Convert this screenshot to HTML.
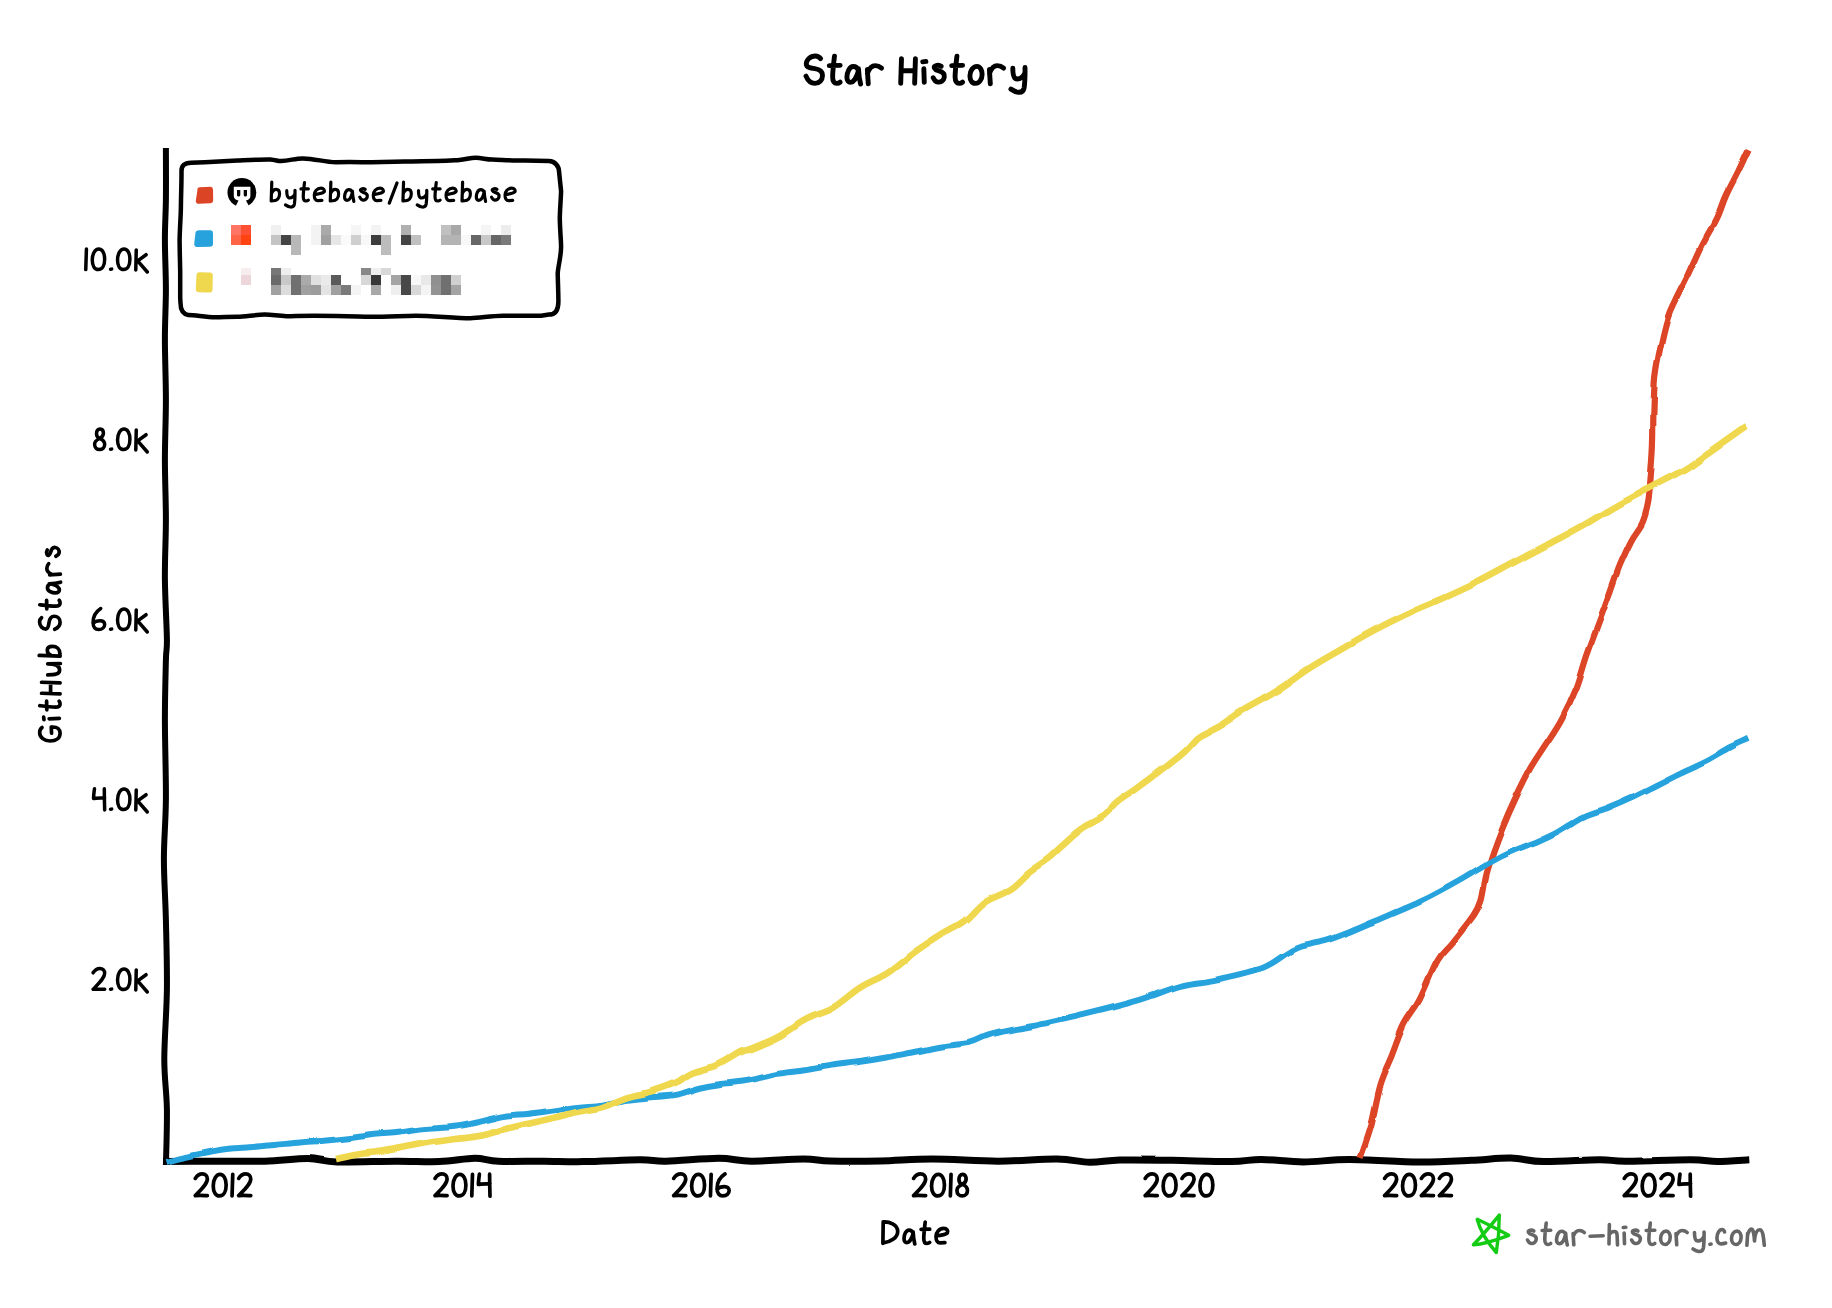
<!DOCTYPE html>
<html><head><meta charset="utf-8"><style>
html,body{margin:0;padding:0;background:#fff;width:1832px;height:1308px;overflow:hidden}
svg{display:block}
</style></head><body>
<svg width="1832" height="1308" viewBox="0 0 1832 1308">
<defs><filter id="xk" filterUnits="userSpaceOnUse" x="0" y="0" width="1832" height="1308"><feTurbulence type="fractalNoise" baseFrequency="0.025" result="noise"/><feDisplacementMap scale="6" xChannelSelector="R" yChannelSelector="G" in="SourceGraphic" in2="noise"/></filter><filter id="xk2" filterUnits="userSpaceOnUse" x="0" y="0" width="1832" height="1308"><feTurbulence type="fractalNoise" baseFrequency="0.03" seed="7" result="noise"/><feDisplacementMap scale="2" xChannelSelector="R" yChannelSelector="G" in="SourceGraphic" in2="noise"/></filter></defs>
<rect width="1832" height="1308" fill="#fff"/>
<g transform="translate(806.00,83.40) translate(0.00,0) scale(1.2700,1.2700)" fill="none" stroke="#000" stroke-width="4.9" stroke-linecap="round" stroke-linejoin="round"><path vector-effect="non-scaling-stroke" transform="translate(0.00,0) scale(1.0833,1) translate(0.00,0)" d="M10.6,-19.5 C9.5,-21 8.2,-21.6 6.9,-21.6 C3,-21.6 0.2,-18.5 0.2,-15.2 C0.2,-12.5 3.5,-12 6.4,-11.6 C9.8,-11 12,-9.5 12,-6.3 C12,-2.5 9.5,0 6.5,0 C3.5,0 1.2,-2.5 0,-5.7"/><path vector-effect="non-scaling-stroke" transform="translate(18.30,0) scale(0.8958,1) translate(0.00,0)" d="M4.6,-21.4 C4,-17 3,-10 3,-5 C3,-1.5 4.5,0 6.5,0 C8,0 9,-0.5 9.6,-1 M0,-14 L9.6,-14.2"/><path vector-effect="non-scaling-stroke" transform="translate(32.20,0) scale(0.9818,1) translate(0.00,0)" d="M9.3,-10 C8.5,-12.5 7,-13.3 5.1,-13.3 C2,-13.3 0,-8.5 0,-4.8 C0,-2.3 1.2,-0.8 3,-0.8 C5.5,-0.8 8,-5 9.3,-10 M9.3,-11.5 C9.5,-7 10,-3 11,0.5"/><path vector-effect="non-scaling-stroke" transform="translate(48.30,0) scale(1.0370,1) translate(0.00,0)" d="M0,-11 C0.2,-7 0.5,-3 0.7,0.3 M0.1,-8 C1.5,-12 3.5,-14 6,-14 C8,-14 9.5,-13.2 10.8,-12"/></g>
<g transform="translate(900.70,83.40) translate(0.00,0) scale(1.2700,1.2700)" fill="none" stroke="#000" stroke-width="4.9" stroke-linecap="round" stroke-linejoin="round"><path vector-effect="non-scaling-stroke" transform="translate(0.00,0) scale(1.0357,1) translate(0.00,0)" d="M0.6,-19.5 L0,0 M11.2,-19.5 L10.6,0 M0.4,-10 L10.9,-10"/><path vector-effect="non-scaling-stroke" transform="translate(17.35,0) scale(0.7143,1) translate(0.00,0)" d="M0,-17 L3.5,-17.3 M1.2,-11.5 L1.7,-0.8"/><path vector-effect="non-scaling-stroke" transform="translate(25.60,0) scale(1.1483,1) translate(0.00,0)" d="M5.5,-13.5 C4.5,-14.3 2.8,-14.5 1.5,-13.8 C0.2,-13 0.5,-11 3.5,-10 C6.5,-9 8,-7.5 7.6,-5 C7.2,-2 5,-0.8 3.2,-1 C1.8,-1.2 0.8,-2.5 0,-4.5"/><path vector-effect="non-scaling-stroke" transform="translate(40.15,0) scale(0.8958,1) translate(0.00,0)" d="M4.6,-21.4 C4,-17 3,-10 3,-5 C3,-1.5 4.5,0 6.5,0 C8,0 9,-0.5 9.6,-1 M0,-14 L9.6,-14.2"/><path vector-effect="non-scaling-stroke" transform="translate(54.50,0) scale(1.1034,1) translate(0.00,0)" d="M5,-13.4 C7.5,-13.4 8.7,-10 8.7,-7 C8.7,-3 6.5,0 4,0 C1.5,0 0,-2.5 0,-6 C0,-10 2.2,-13.4 5,-13.4 Z"/><path vector-effect="non-scaling-stroke" transform="translate(69.85,0) scale(1.0370,1) translate(0.00,0)" d="M0,-11 C0.2,-7 0.5,-3 0.7,0.3 M0.1,-8 C1.5,-12 3.5,-14 6,-14 C8,-14 9.5,-13.2 10.8,-12"/><path vector-effect="non-scaling-stroke" transform="translate(86.80,0) scale(0.9894,1) translate(1.50,0)" d="M0,-12 C0,-7 0.8,-3.5 3.5,-3.5 C6,-3.5 8.5,-5.5 9.7,-8.5 M9.7,-12.5 C9.8,-6 9.5,0 9,3.5 C8.5,6.5 6.5,7.2 4.3,7 C2,6.8 0,5.5 -1.5,4.5"/></g>
<g filter="url(#xk2)">
<path d="M165.9,148.0 C165.9,156.6 166.1,184.4 165.9,199.7 C165.7,214.9 164.9,224.6 164.9,239.5 C164.9,254.4 165.9,272.7 165.9,289.3 C165.9,305.9 164.9,320.6 164.9,339.0 C164.9,357.4 165.9,379.9 165.9,400.0 C165.9,420.1 164.9,439.8 164.9,459.7 C164.9,479.6 165.9,499.5 165.9,519.4 C165.9,539.3 164.7,559.2 164.9,579.1 C165.1,599.0 166.7,625.3 166.9,638.8 C167.1,652.3 166.2,646.5 165.9,660.0 C165.6,673.5 164.9,696.5 164.9,719.7 C164.9,742.9 166.1,776.1 165.9,799.3 C165.7,822.5 163.9,838.9 163.9,859.0 C163.9,879.1 165.4,898.2 165.9,920.0 C166.4,941.8 167.2,966.4 166.9,989.6 C166.6,1012.8 164.3,1039.4 164.3,1059.3 C164.3,1079.2 166.6,1091.4 166.9,1109.0 C167.2,1126.6 166.1,1155.7 165.9,1165.0" stroke="#000" stroke-width="6" fill="none" stroke-linecap="butt"/>
<path d="M163.0,1161.5 C171.2,1161.5 195.4,1161.2 212.4,1161.2 C229.4,1161.2 248.9,1161.6 264.8,1161.2 C280.7,1160.8 296.0,1158.5 308.0,1158.6 C320.0,1158.7 322.3,1161.6 336.9,1162.0 C351.5,1162.4 378.7,1161.3 395.8,1161.2 C412.9,1161.1 426.2,1162.1 439.3,1161.6 C452.4,1161.1 464.9,1158.4 474.7,1158.3 C484.5,1158.2 486.7,1160.7 498.3,1161.2 C509.9,1161.7 529.9,1161.1 544.1,1161.2 C558.3,1161.3 567.4,1161.8 583.4,1161.6 C599.4,1161.4 626.2,1159.9 640.0,1159.8 C653.8,1159.7 653.1,1161.5 666.2,1161.2 C679.3,1161.0 704.4,1158.3 718.6,1158.3 C732.8,1158.3 737.2,1161.1 751.4,1161.2 C765.6,1161.3 790.7,1159.0 803.8,1159.0 C816.9,1159.0 817.3,1160.7 830.0,1161.0 C842.7,1161.3 862.9,1161.3 880.0,1161.0 C897.1,1160.7 912.8,1159.0 932.4,1159.0 C952.0,1159.0 977.1,1161.2 997.9,1161.2 C1018.6,1161.2 1041.6,1158.8 1056.9,1159.0 C1072.2,1159.2 1079.1,1162.1 1089.6,1162.3 C1100.1,1162.5 1106.2,1160.3 1120.0,1160.0 C1133.8,1159.7 1153.8,1160.0 1172.4,1160.3 C1191.0,1160.6 1216.6,1161.8 1231.4,1161.6 C1246.2,1161.4 1249.5,1159.3 1261.5,1159.4 C1273.5,1159.5 1288.8,1162.0 1303.4,1162.0 C1318.0,1162.0 1330.0,1159.5 1349.3,1159.5 C1368.6,1159.5 1398.7,1161.9 1419.0,1162.0 C1439.3,1162.1 1456.1,1161.0 1471.4,1160.3 C1486.7,1159.6 1498.7,1157.9 1510.7,1158.1 C1522.7,1158.3 1528.6,1161.3 1543.4,1161.6 C1558.2,1161.9 1585.6,1159.8 1599.3,1159.7 C1613.0,1159.6 1610.2,1161.2 1625.5,1161.2 C1640.8,1161.2 1675.7,1159.6 1691.0,1159.7 C1706.3,1159.8 1707.5,1161.6 1717.2,1161.6 C1726.9,1161.6 1744.0,1160.0 1749.3,1159.7" stroke="#000" stroke-width="7" fill="none" stroke-linecap="butt"/>
</g>
<g transform="translate(147.30,269.60) translate(-61.54,0) scale(0.9600,0.9600)" fill="none" stroke="#000" stroke-width="3.5" stroke-linecap="round" stroke-linejoin="round"><path vector-effect="non-scaling-stroke" transform="translate(0.00,0) scale(1.0000,1) translate(-0.30,0)" d="M1,-21.5 L0.3,0"/><path vector-effect="non-scaling-stroke" transform="translate(6.80,0) scale(0.9923,1) translate(0.00,0)" d="M6.8,-21.5 C10.5,-21.5 13,-17 13,-11 C13,-4.5 10.5,0 6.3,0 C2.5,0 0,-4 0,-10 C0,-16.5 3,-21.5 6.8,-21.5 Z"/><path vector-effect="non-scaling-stroke" transform="translate(25.80,0) scale(1.5000,1) translate(0.00,0)" d="M0,-0.3 L0.8,-0.5"/><path vector-effect="non-scaling-stroke" transform="translate(33.10,0) scale(0.9923,1) translate(0.00,0)" d="M6.8,-21.5 C10.5,-21.5 13,-17 13,-11 C13,-4.5 10.5,0 6.3,0 C2.5,0 0,-4 0,-10 C0,-16.5 3,-21.5 6.8,-21.5 Z"/><path vector-effect="non-scaling-stroke" transform="translate(52.10,0) scale(0.9756,1) translate(0.00,0)" d="M0.5,-20.5 L0,0.5 M11,-15.5 L2,-9 L12.3,2.5"/></g>
<g transform="translate(147.30,449.60) translate(-52.70,0) scale(0.9600,0.9600)" fill="none" stroke="#000" stroke-width="3.5" stroke-linecap="round" stroke-linejoin="round"><path vector-effect="non-scaling-stroke" transform="translate(0.00,0) scale(1.0000,1) translate(0.00,0)" d="M5.5,-11.5 C2.5,-12.5 2,-14.5 2,-16.5 C2,-19.5 3.5,-21.5 5.8,-21.5 C8,-21.5 9.2,-19.5 9.2,-17 C9.2,-14 7.5,-12.5 5,-11.3 C2,-10 0,-8 0,-5.5 C0,-2 2.3,0 5.2,0 C8.2,0 10.5,-2 10.5,-5.5 C10.5,-9 8,-10.5 5.5,-11.5 Z"/><path vector-effect="non-scaling-stroke" transform="translate(16.60,0) scale(1.5000,1) translate(0.00,0)" d="M0,-0.3 L0.8,-0.5"/><path vector-effect="non-scaling-stroke" transform="translate(23.90,0) scale(0.9923,1) translate(0.00,0)" d="M6.8,-21.5 C10.5,-21.5 13,-17 13,-11 C13,-4.5 10.5,0 6.3,0 C2.5,0 0,-4 0,-10 C0,-16.5 3,-21.5 6.8,-21.5 Z"/><path vector-effect="non-scaling-stroke" transform="translate(42.90,0) scale(0.9756,1) translate(0.00,0)" d="M0.5,-20.5 L0,0.5 M11,-15.5 L2,-9 L12.3,2.5"/></g>
<g transform="translate(147.30,629.60) translate(-54.24,0) scale(0.9600,0.9600)" fill="none" stroke="#000" stroke-width="3.5" stroke-linecap="round" stroke-linejoin="round"><path vector-effect="non-scaling-stroke" transform="translate(0.00,0) scale(1.0522,1) translate(-0.30,0)" d="M7.9,-22 C3.5,-19 0.3,-14 0.3,-7.5 C0.3,-2.5 2.5,0 5.8,0 C9.5,0 11.8,-2.5 11.8,-5.3 C11.8,-7.8 10,-9.3 7.5,-9.3 C4.5,-9.3 1.5,-8 0.3,-6.5"/><path vector-effect="non-scaling-stroke" transform="translate(18.20,0) scale(1.5000,1) translate(0.00,0)" d="M0,-0.3 L0.8,-0.5"/><path vector-effect="non-scaling-stroke" transform="translate(25.50,0) scale(0.9923,1) translate(0.00,0)" d="M6.8,-21.5 C10.5,-21.5 13,-17 13,-11 C13,-4.5 10.5,0 6.3,0 C2.5,0 0,-4 0,-10 C0,-16.5 3,-21.5 6.8,-21.5 Z"/><path vector-effect="non-scaling-stroke" transform="translate(44.50,0) scale(0.9756,1) translate(0.00,0)" d="M0.5,-20.5 L0,0.5 M11,-15.5 L2,-9 L12.3,2.5"/></g>
<g transform="translate(147.30,809.60) translate(-53.76,0) scale(0.9600,0.9600)" fill="none" stroke="#000" stroke-width="3.5" stroke-linecap="round" stroke-linejoin="round"><path vector-effect="non-scaling-stroke" transform="translate(0.00,0) scale(0.9915,1) translate(0.00,0)" d="M1,-21.7 C0.5,-18 0,-14 0,-11.5 C3.5,-11.8 7.5,-12.3 11.7,-12.3 M11.3,-21.7 C11.3,-14 11.5,-6 11.7,0.3"/><path vector-effect="non-scaling-stroke" transform="translate(17.70,0) scale(1.5000,1) translate(0.00,0)" d="M0,-0.3 L0.8,-0.5"/><path vector-effect="non-scaling-stroke" transform="translate(25.00,0) scale(0.9923,1) translate(0.00,0)" d="M6.8,-21.5 C10.5,-21.5 13,-17 13,-11 C13,-4.5 10.5,0 6.3,0 C2.5,0 0,-4 0,-10 C0,-16.5 3,-21.5 6.8,-21.5 Z"/><path vector-effect="non-scaling-stroke" transform="translate(44.00,0) scale(0.9756,1) translate(0.00,0)" d="M0.5,-20.5 L0,0.5 M11,-15.5 L2,-9 L12.3,2.5"/></g>
<g transform="translate(147.30,989.60) translate(-54.24,0) scale(0.9600,0.9600)" fill="none" stroke="#000" stroke-width="3.5" stroke-linecap="round" stroke-linejoin="round"><path vector-effect="non-scaling-stroke" transform="translate(0.00,0) scale(1.0083,1) translate(0.00,0)" d="M0,-17.5 C1.8,-20.3 4.5,-22 7,-22 C10,-22 12,-20 12,-17 C12,-12 6,-6.5 0,-0.3 C4,-0.6 8,-0.4 12,-0.3"/><path vector-effect="non-scaling-stroke" transform="translate(18.20,0) scale(1.5000,1) translate(0.00,0)" d="M0,-0.3 L0.8,-0.5"/><path vector-effect="non-scaling-stroke" transform="translate(25.50,0) scale(0.9923,1) translate(0.00,0)" d="M6.8,-21.5 C10.5,-21.5 13,-17 13,-11 C13,-4.5 10.5,0 6.3,0 C2.5,0 0,-4 0,-10 C0,-16.5 3,-21.5 6.8,-21.5 Z"/><path vector-effect="non-scaling-stroke" transform="translate(44.50,0) scale(0.9756,1) translate(0.00,0)" d="M0.5,-20.5 L0,0.5 M11,-15.5 L2,-9 L12.3,2.5"/></g>
<g transform="translate(223.00,1195.90) translate(-27.75,0) scale(1.0000,1.0000)" fill="none" stroke="#000" stroke-width="3.7" stroke-linecap="round" stroke-linejoin="round"><path vector-effect="non-scaling-stroke" transform="translate(0.00,0) scale(1.0083,1) translate(0.00,0)" d="M0,-17.5 C1.8,-20.3 4.5,-22 7,-22 C10,-22 12,-20 12,-17 C12,-12 6,-6.5 0,-0.3 C4,-0.6 8,-0.4 12,-0.3"/><path vector-effect="non-scaling-stroke" transform="translate(18.00,0) scale(0.9923,1) translate(0.00,0)" d="M6.8,-21.5 C10.5,-21.5 13,-17 13,-11 C13,-4.5 10.5,0 6.3,0 C2.5,0 0,-4 0,-10 C0,-16.5 3,-21.5 6.8,-21.5 Z"/><path vector-effect="non-scaling-stroke" transform="translate(36.80,0) scale(1.0000,1) translate(-0.30,0)" d="M1,-21.5 L0.3,0"/><path vector-effect="non-scaling-stroke" transform="translate(43.40,0) scale(1.0083,1) translate(0.00,0)" d="M0,-17.5 C1.8,-20.3 4.5,-22 7,-22 C10,-22 12,-20 12,-17 C12,-12 6,-6.5 0,-0.3 C4,-0.6 8,-0.4 12,-0.3"/></g>
<g transform="translate(462.50,1195.90) translate(-27.50,0) scale(1.0000,1.0000)" fill="none" stroke="#000" stroke-width="3.7" stroke-linecap="round" stroke-linejoin="round"><path vector-effect="non-scaling-stroke" transform="translate(0.00,0) scale(1.0083,1) translate(0.00,0)" d="M0,-17.5 C1.8,-20.3 4.5,-22 7,-22 C10,-22 12,-20 12,-17 C12,-12 6,-6.5 0,-0.3 C4,-0.6 8,-0.4 12,-0.3"/><path vector-effect="non-scaling-stroke" transform="translate(18.00,0) scale(0.9923,1) translate(0.00,0)" d="M6.8,-21.5 C10.5,-21.5 13,-17 13,-11 C13,-4.5 10.5,0 6.3,0 C2.5,0 0,-4 0,-10 C0,-16.5 3,-21.5 6.8,-21.5 Z"/><path vector-effect="non-scaling-stroke" transform="translate(36.80,0) scale(1.0000,1) translate(-0.30,0)" d="M1,-21.5 L0.3,0"/><path vector-effect="non-scaling-stroke" transform="translate(43.40,0) scale(0.9915,1) translate(0.00,0)" d="M1,-21.7 C0.5,-18 0,-14 0,-11.5 C3.5,-11.8 7.5,-12.3 11.7,-12.3 M11.3,-21.7 C11.3,-14 11.5,-6 11.7,0.3"/></g>
<g transform="translate(701.40,1195.90) translate(-27.75,0) scale(1.0000,1.0000)" fill="none" stroke="#000" stroke-width="3.7" stroke-linecap="round" stroke-linejoin="round"><path vector-effect="non-scaling-stroke" transform="translate(0.00,0) scale(1.0083,1) translate(0.00,0)" d="M0,-17.5 C1.8,-20.3 4.5,-22 7,-22 C10,-22 12,-20 12,-17 C12,-12 6,-6.5 0,-0.3 C4,-0.6 8,-0.4 12,-0.3"/><path vector-effect="non-scaling-stroke" transform="translate(18.00,0) scale(0.9923,1) translate(0.00,0)" d="M6.8,-21.5 C10.5,-21.5 13,-17 13,-11 C13,-4.5 10.5,0 6.3,0 C2.5,0 0,-4 0,-10 C0,-16.5 3,-21.5 6.8,-21.5 Z"/><path vector-effect="non-scaling-stroke" transform="translate(36.80,0) scale(1.0000,1) translate(-0.30,0)" d="M1,-21.5 L0.3,0"/><path vector-effect="non-scaling-stroke" transform="translate(43.40,0) scale(1.0522,1) translate(-0.30,0)" d="M7.9,-22 C3.5,-19 0.3,-14 0.3,-7.5 C0.3,-2.5 2.5,0 5.8,0 C9.5,0 11.8,-2.5 11.8,-5.3 C11.8,-7.8 10,-9.3 7.5,-9.3 C4.5,-9.3 1.5,-8 0.3,-6.5"/></g>
<g transform="translate(940.50,1195.90) translate(-26.95,0) scale(1.0000,1.0000)" fill="none" stroke="#000" stroke-width="3.7" stroke-linecap="round" stroke-linejoin="round"><path vector-effect="non-scaling-stroke" transform="translate(0.00,0) scale(1.0083,1) translate(0.00,0)" d="M0,-17.5 C1.8,-20.3 4.5,-22 7,-22 C10,-22 12,-20 12,-17 C12,-12 6,-6.5 0,-0.3 C4,-0.6 8,-0.4 12,-0.3"/><path vector-effect="non-scaling-stroke" transform="translate(18.00,0) scale(0.9923,1) translate(0.00,0)" d="M6.8,-21.5 C10.5,-21.5 13,-17 13,-11 C13,-4.5 10.5,0 6.3,0 C2.5,0 0,-4 0,-10 C0,-16.5 3,-21.5 6.8,-21.5 Z"/><path vector-effect="non-scaling-stroke" transform="translate(36.80,0) scale(1.0000,1) translate(-0.30,0)" d="M1,-21.5 L0.3,0"/><path vector-effect="non-scaling-stroke" transform="translate(43.40,0) scale(1.0000,1) translate(0.00,0)" d="M5.5,-11.5 C2.5,-12.5 2,-14.5 2,-16.5 C2,-19.5 3.5,-21.5 5.8,-21.5 C8,-21.5 9.2,-19.5 9.2,-17 C9.2,-14 7.5,-12.5 5,-11.3 C2,-10 0,-8 0,-5.5 C0,-2 2.3,0 5.2,0 C8.2,0 10.5,-2 10.5,-5.5 C10.5,-9 8,-10.5 5.5,-11.5 Z"/></g>
<g transform="translate(1179.00,1195.90) translate(-33.85,0) scale(1.0000,1.0000)" fill="none" stroke="#000" stroke-width="3.7" stroke-linecap="round" stroke-linejoin="round"><path vector-effect="non-scaling-stroke" transform="translate(0.00,0) scale(1.0083,1) translate(0.00,0)" d="M0,-17.5 C1.8,-20.3 4.5,-22 7,-22 C10,-22 12,-20 12,-17 C12,-12 6,-6.5 0,-0.3 C4,-0.6 8,-0.4 12,-0.3"/><path vector-effect="non-scaling-stroke" transform="translate(18.00,0) scale(0.9923,1) translate(0.00,0)" d="M6.8,-21.5 C10.5,-21.5 13,-17 13,-11 C13,-4.5 10.5,0 6.3,0 C2.5,0 0,-4 0,-10 C0,-16.5 3,-21.5 6.8,-21.5 Z"/><path vector-effect="non-scaling-stroke" transform="translate(36.80,0) scale(1.0083,1) translate(0.00,0)" d="M0,-17.5 C1.8,-20.3 4.5,-22 7,-22 C10,-22 12,-20 12,-17 C12,-12 6,-6.5 0,-0.3 C4,-0.6 8,-0.4 12,-0.3"/><path vector-effect="non-scaling-stroke" transform="translate(54.80,0) scale(0.9923,1) translate(0.00,0)" d="M6.8,-21.5 C10.5,-21.5 13,-17 13,-11 C13,-4.5 10.5,0 6.3,0 C2.5,0 0,-4 0,-10 C0,-16.5 3,-21.5 6.8,-21.5 Z"/></g>
<g transform="translate(1418.00,1195.90) translate(-33.45,0) scale(1.0000,1.0000)" fill="none" stroke="#000" stroke-width="3.7" stroke-linecap="round" stroke-linejoin="round"><path vector-effect="non-scaling-stroke" transform="translate(0.00,0) scale(1.0083,1) translate(0.00,0)" d="M0,-17.5 C1.8,-20.3 4.5,-22 7,-22 C10,-22 12,-20 12,-17 C12,-12 6,-6.5 0,-0.3 C4,-0.6 8,-0.4 12,-0.3"/><path vector-effect="non-scaling-stroke" transform="translate(18.00,0) scale(0.9923,1) translate(0.00,0)" d="M6.8,-21.5 C10.5,-21.5 13,-17 13,-11 C13,-4.5 10.5,0 6.3,0 C2.5,0 0,-4 0,-10 C0,-16.5 3,-21.5 6.8,-21.5 Z"/><path vector-effect="non-scaling-stroke" transform="translate(36.80,0) scale(1.0083,1) translate(0.00,0)" d="M0,-17.5 C1.8,-20.3 4.5,-22 7,-22 C10,-22 12,-20 12,-17 C12,-12 6,-6.5 0,-0.3 C4,-0.6 8,-0.4 12,-0.3"/><path vector-effect="non-scaling-stroke" transform="translate(54.80,0) scale(1.0083,1) translate(0.00,0)" d="M0,-17.5 C1.8,-20.3 4.5,-22 7,-22 C10,-22 12,-20 12,-17 C12,-12 6,-6.5 0,-0.3 C4,-0.6 8,-0.4 12,-0.3"/></g>
<g transform="translate(1657.40,1195.90) translate(-33.20,0) scale(1.0000,1.0000)" fill="none" stroke="#000" stroke-width="3.7" stroke-linecap="round" stroke-linejoin="round"><path vector-effect="non-scaling-stroke" transform="translate(0.00,0) scale(1.0083,1) translate(0.00,0)" d="M0,-17.5 C1.8,-20.3 4.5,-22 7,-22 C10,-22 12,-20 12,-17 C12,-12 6,-6.5 0,-0.3 C4,-0.6 8,-0.4 12,-0.3"/><path vector-effect="non-scaling-stroke" transform="translate(18.00,0) scale(0.9923,1) translate(0.00,0)" d="M6.8,-21.5 C10.5,-21.5 13,-17 13,-11 C13,-4.5 10.5,0 6.3,0 C2.5,0 0,-4 0,-10 C0,-16.5 3,-21.5 6.8,-21.5 Z"/><path vector-effect="non-scaling-stroke" transform="translate(36.80,0) scale(1.0083,1) translate(0.00,0)" d="M0,-17.5 C1.8,-20.3 4.5,-22 7,-22 C10,-22 12,-20 12,-17 C12,-12 6,-6.5 0,-0.3 C4,-0.6 8,-0.4 12,-0.3"/><path vector-effect="non-scaling-stroke" transform="translate(54.80,0) scale(0.9915,1) translate(0.00,0)" d="M1,-21.7 C0.5,-18 0,-14 0,-11.5 C3.5,-11.8 7.5,-12.3 11.7,-12.3 M11.3,-21.7 C11.3,-14 11.5,-6 11.7,0.3"/></g>
<g transform="translate(882.90,1243.40) translate(0.00,0) scale(1.0000,1.0000)" fill="none" stroke="#000" stroke-width="3.7" stroke-linecap="round" stroke-linejoin="round"><path vector-effect="non-scaling-stroke" transform="translate(0.00,0) scale(1.0207,1) translate(0.00,0)" d="M0.3,-21.5 C0.2,-14 0.1,-7 0,0 M0.3,-21.5 C6,-22 14.5,-19 14.5,-12 C14.5,-6 8,-1.5 0.3,-0.5"/><path vector-effect="non-scaling-stroke" transform="translate(21.10,0) scale(0.9818,1) translate(0.00,0)" d="M9.3,-10 C8.5,-12.5 7,-13.3 5.1,-13.3 C2,-13.3 0,-8.5 0,-4.8 C0,-2.3 1.2,-0.8 3,-0.8 C5.5,-0.8 8,-5 9.3,-10 M9.3,-11.5 C9.5,-7 10,-3 11,0.5"/><path vector-effect="non-scaling-stroke" transform="translate(38.20,0) scale(0.8958,1) translate(0.00,0)" d="M4.6,-21.4 C4,-17 3,-10 3,-5 C3,-1.5 4.5,0 6.5,0 C8,0 9,-0.5 9.6,-1 M0,-14 L9.6,-14.2"/><path vector-effect="non-scaling-stroke" transform="translate(53.10,0) scale(1.0346,1) translate(0.00,0)" d="M0.8,-7.5 C4,-8 9,-8.5 11,-10.5 C12,-12.5 10.5,-15 7.5,-15 C3,-15 0,-11 0,-7 C0,-3 1.5,-0.5 4,-0.5 L8.6,-0.7"/></g>
<g transform="translate(60.10,741.00) rotate(-90) translate(0.00,0) scale(1.0000,0.9500)" fill="none" stroke="#000" stroke-width="3.7" stroke-linecap="round" stroke-linejoin="round"><path vector-effect="non-scaling-stroke" transform="translate(0.00,0) scale(1.0370,1) translate(0.00,0)" d="M13,-19 C12,-20.5 10,-21.5 8,-21.5 C3.5,-21.5 0,-16.5 0,-10.5 C0,-4 3,0 7.5,0 C11,0 13.5,-3 13.5,-7.5 L13.5,-9 M7.5,-9 L13.5,-9.3"/><path vector-effect="non-scaling-stroke" transform="translate(21.35,0) scale(0.7143,1) translate(0.00,0)" d="M0,-17 L3.5,-17.3 M1.2,-11.5 L1.7,-0.8"/><path vector-effect="non-scaling-stroke" transform="translate(31.20,0) scale(0.8958,1) translate(0.00,0)" d="M4.6,-21.4 C4,-17 3,-10 3,-5 C3,-1.5 4.5,0 6.5,0 C8,0 9,-0.5 9.6,-1 M0,-14 L9.6,-14.2"/><path vector-effect="non-scaling-stroke" transform="translate(47.15,0) scale(1.0357,1) translate(0.00,0)" d="M0.6,-19.5 L0,0 M11.2,-19.5 L10.6,0 M0.4,-10 L10.9,-10"/><path vector-effect="non-scaling-stroke" transform="translate(66.10,0) scale(1.1068,1) translate(0.00,0)" d="M0,-13 C0,-6 0.5,-0.5 4.5,-0.5 C7.5,-0.5 10,-4 10,-13 M10,-13 L10.3,0.3"/><path vector-effect="non-scaling-stroke" transform="translate(84.85,0) scale(0.9700,1) translate(0.00,0)" d="M0.7,-22 C0.5,-14 0.2,-7 0,0 M0.2,-8 C1.5,-12 4,-13.5 6,-13.5 C8.5,-13.5 10,-11.5 10,-8 C10,-3.5 7,-0.3 3,-0.3 L0,0"/><path vector-effect="non-scaling-stroke" transform="translate(111.75,0) scale(1.0833,1) translate(0.00,0)" d="M10.6,-19.5 C9.5,-21 8.2,-21.6 6.9,-21.6 C3,-21.6 0.2,-18.5 0.2,-15.2 C0.2,-12.5 3.5,-12 6.4,-11.6 C9.8,-11 12,-9.5 12,-6.3 C12,-2.5 9.5,0 6.5,0 C3.5,0 1.2,-2.5 0,-5.7"/><path vector-effect="non-scaling-stroke" transform="translate(132.10,0) scale(0.8958,1) translate(0.00,0)" d="M4.6,-21.4 C4,-17 3,-10 3,-5 C3,-1.5 4.5,0 6.5,0 C8,0 9,-0.5 9.6,-1 M0,-14 L9.6,-14.2"/><path vector-effect="non-scaling-stroke" transform="translate(148.05,0) scale(0.9818,1) translate(0.00,0)" d="M9.3,-10 C8.5,-12.5 7,-13.3 5.1,-13.3 C2,-13.3 0,-8.5 0,-4.8 C0,-2.3 1.2,-0.8 3,-0.8 C5.5,-0.8 8,-5 9.3,-10 M9.3,-11.5 C9.5,-7 10,-3 11,0.5"/><path vector-effect="non-scaling-stroke" transform="translate(166.20,0) scale(1.0370,1) translate(0.00,0)" d="M0,-11 C0.2,-7 0.5,-3 0.7,0.3 M0.1,-8 C1.5,-12 3.5,-14 6,-14 C8,-14 9.5,-13.2 10.8,-12"/><path vector-effect="non-scaling-stroke" transform="translate(184.75,0) scale(1.1483,1) translate(0.00,0)" d="M5.5,-13.5 C4.5,-14.3 2.8,-14.5 1.5,-13.8 C0.2,-13 0.5,-11 3.5,-10 C6.5,-9 8,-7.5 7.6,-5 C7.2,-2 5,-0.8 3.2,-1 C1.8,-1.2 0.8,-2.5 0,-4.5"/></g>
<g filter="url(#xk)">
<path d="M1359.6,1158.0 C1361.4,1152.6 1367.0,1137.6 1370.3,1125.6 C1373.6,1113.6 1375.9,1097.5 1379.5,1085.8 C1383.1,1074.1 1387.7,1065.5 1391.8,1055.3 C1395.9,1045.1 1399.4,1033.9 1404.0,1024.7 C1408.6,1015.5 1413.7,1010.9 1419.3,1000.2 C1424.9,989.5 1432.0,970.2 1437.6,960.5 C1443.2,950.8 1446.8,949.8 1452.9,942.1 C1459.0,934.5 1469.6,921.6 1474.3,914.6 C1479.0,907.6 1479.3,906.5 1481.3,900.0 C1483.3,893.5 1484.3,883.2 1486.2,875.6 C1488.1,868.0 1490.0,862.2 1492.7,854.3 C1495.4,846.4 1499.0,836.8 1502.6,828.1 C1506.1,819.4 1509.4,811.7 1514.0,801.9 C1518.6,792.1 1525.2,778.4 1530.4,769.1 C1535.6,759.8 1539.9,754.4 1545.1,746.2 C1550.3,738.0 1556.2,729.8 1561.5,720.0 C1566.8,710.2 1572.3,698.5 1576.6,687.7 C1580.8,676.9 1582.9,666.9 1587.0,655.0 C1591.1,643.1 1597.4,626.9 1601.3,616.3 C1605.2,605.6 1607.4,599.5 1610.5,591.1 C1613.6,582.7 1616.2,574.3 1619.7,565.9 C1623.2,557.5 1627.4,548.0 1631.2,540.7 C1635.0,533.4 1639.8,528.8 1642.6,522.3 C1645.4,515.8 1647.0,508.9 1648.3,501.7 C1649.6,494.4 1649.8,488.4 1650.6,478.8 C1651.4,469.2 1652.4,455.9 1652.9,444.4 C1653.4,432.9 1653.1,421.1 1653.5,410.0 C1653.9,398.9 1654.0,388.4 1655.2,377.7 C1656.4,367.0 1658.8,355.5 1660.9,345.6 C1663.0,335.7 1665.5,325.4 1667.8,318.1 C1670.1,310.8 1671.3,309.3 1674.7,302.0 C1678.1,294.7 1683.8,284.1 1688.4,274.5 C1693.0,264.9 1697.6,253.9 1702.2,244.7 C1706.8,235.5 1712.2,227.4 1716.0,219.4 C1719.8,211.4 1721.7,204.1 1725.1,196.5 C1728.5,188.9 1732.8,181.3 1736.6,173.6 C1740.3,165.9 1745.8,154.1 1747.6,150.2" stroke="#dc4426" stroke-width="6.2" fill="none" stroke-linejoin="round" stroke-linecap="butt"/>
<path d="M166.5,1162.0 C169.5,1161.2 177.5,1158.8 184.6,1157.1 C191.7,1155.4 202.3,1153.2 209.1,1151.9 C215.9,1150.6 218.7,1149.8 225.5,1149.0 C232.3,1148.2 241.9,1148.0 250.1,1147.3 C258.3,1146.6 266.4,1145.7 274.6,1144.9 C282.8,1144.1 291.0,1143.1 299.2,1142.4 C307.4,1141.7 315.5,1141.5 323.7,1140.8 C331.9,1140.1 340.1,1139.3 348.3,1138.3 C356.5,1137.3 364.7,1135.9 372.9,1135.0 C381.1,1134.1 389.2,1133.9 397.4,1132.9 C405.6,1132.0 412.4,1130.3 422.0,1129.3 C431.6,1128.3 445.4,1128.0 455.0,1126.8 C464.6,1125.6 471.4,1123.7 479.6,1121.9 C487.8,1120.1 495.9,1117.5 504.1,1116.1 C512.3,1114.7 520.5,1114.7 528.7,1113.7 C536.9,1112.8 545.0,1111.5 553.2,1110.4 C561.4,1109.3 569.6,1108.0 577.8,1107.1 C586.0,1106.1 594.2,1105.9 602.4,1104.7 C610.6,1103.5 618.7,1101.0 626.9,1099.8 C635.1,1098.6 643.3,1098.1 651.5,1097.3 C659.7,1096.5 667.9,1096.5 676.1,1094.9 C684.3,1093.3 692.4,1089.4 700.6,1087.5 C708.8,1085.6 717.0,1084.6 725.2,1083.4 C733.4,1082.2 741.3,1081.9 750.0,1080.3 C758.7,1078.7 768.3,1075.6 777.5,1073.9 C786.7,1072.2 795.8,1071.6 805.0,1070.2 C814.2,1068.8 823.4,1067.0 832.6,1065.6 C841.8,1064.2 850.9,1063.3 860.1,1061.9 C869.3,1060.5 878.4,1059.0 887.6,1057.3 C896.8,1055.6 905.9,1053.6 915.1,1051.8 C924.3,1050.0 933.5,1047.8 942.7,1046.3 C951.9,1044.8 962.6,1044.5 970.2,1042.7 C977.8,1040.9 980.9,1037.6 988.5,1035.3 C996.1,1033.0 1005.9,1031.1 1016.1,1028.9 C1026.3,1026.8 1036.7,1025.3 1050.0,1022.4 C1063.3,1019.5 1080.6,1015.5 1095.9,1011.6 C1111.2,1007.8 1127.4,1003.6 1141.7,999.3 C1156.0,995.0 1168.8,988.9 1181.5,985.6 C1194.2,982.3 1204.4,982.5 1218.2,979.4 C1232.0,976.3 1251.4,972.3 1264.1,967.2 C1276.8,962.1 1284.4,953.2 1294.6,948.9 C1304.8,944.6 1316.0,944.0 1325.2,941.2 C1334.4,938.4 1341.5,935.4 1350.0,932.0 C1358.5,928.6 1364.5,925.9 1376.5,920.7 C1388.5,915.5 1408.4,907.5 1422.3,900.8 C1436.2,894.1 1449.6,886.4 1460.0,880.5 C1470.4,874.6 1476.4,870.4 1484.6,865.7 C1492.8,861.1 1500.9,856.4 1509.1,852.6 C1517.3,848.8 1525.5,846.3 1533.7,842.8 C1541.9,839.2 1550.0,835.7 1558.2,831.3 C1566.4,826.9 1574.6,820.5 1582.8,816.6 C1591.0,812.7 1599.2,810.9 1607.4,807.6 C1615.6,804.3 1623.7,800.8 1631.9,797.0 C1640.1,793.2 1648.3,788.8 1656.5,784.7 C1664.7,780.6 1672.9,776.4 1681.1,772.4 C1689.3,768.4 1697.4,765.1 1705.6,760.9 C1713.8,756.7 1723.1,750.7 1730.2,747.0 C1737.3,743.3 1745.2,740.2 1748.2,738.8" stroke="#28a2dc" stroke-width="6.0" fill="none" stroke-linejoin="round" stroke-linecap="butt"/>
<path d="M336.0,1159.1 C339.4,1158.4 349.0,1156.0 356.5,1154.7 C364.0,1153.4 372.8,1152.6 381.0,1151.4 C389.2,1150.2 397.4,1148.8 405.6,1147.3 C413.8,1145.8 422.0,1143.8 430.2,1142.4 C438.4,1141.0 446.8,1140.2 455.0,1139.1 C463.2,1138.0 471.4,1137.4 479.6,1135.8 C487.8,1134.2 495.9,1131.2 504.1,1129.2 C512.3,1127.2 520.5,1125.4 528.7,1123.5 C536.9,1121.6 545.0,1119.7 553.2,1117.8 C561.4,1115.9 569.6,1113.8 577.8,1112.0 C586.0,1110.2 594.2,1109.5 602.4,1107.1 C610.6,1104.6 618.8,1099.9 627.0,1097.3 C635.2,1094.7 643.3,1094.0 651.5,1091.6 C659.7,1089.1 669.3,1085.8 676.1,1082.6 C682.9,1079.4 685.6,1075.6 692.4,1072.7 C699.2,1069.8 708.8,1068.9 717.0,1065.4 C725.2,1061.9 736.1,1054.2 741.6,1051.5 C747.1,1048.8 744.0,1051.5 750.0,1049.1 C756.0,1046.7 768.3,1042.1 777.5,1037.2 C786.7,1032.3 795.8,1024.6 805.0,1019.7 C814.2,1014.8 823.4,1013.1 832.6,1007.8 C841.8,1002.4 850.9,993.4 860.1,987.6 C869.3,981.8 878.4,978.9 887.6,972.9 C896.8,966.9 905.9,958.4 915.1,951.8 C924.3,945.2 934.4,938.7 942.7,933.5 C951.0,928.3 957.7,926.0 964.7,920.6 C971.7,915.2 977.2,906.8 984.9,901.4 C992.5,896.0 1003.3,893.4 1010.6,888.5 C1017.9,883.6 1022.3,877.2 1028.9,872.0 C1035.5,866.8 1044.7,861.1 1050.0,857.0 C1055.3,852.9 1055.4,851.9 1060.6,847.3 C1065.8,842.7 1074.4,834.4 1081.3,829.4 C1088.2,824.4 1096.0,821.6 1102.0,817.0 C1108.0,812.4 1111.5,806.3 1117.2,801.5 C1122.9,796.7 1128.6,793.8 1136.4,788.1 C1144.2,782.4 1156.0,773.6 1164.0,767.4 C1172.0,761.2 1179.0,755.9 1184.5,751.0 C1190.0,746.1 1193.3,740.9 1196.8,737.9 C1200.2,734.9 1200.8,735.4 1205.2,733.0 C1209.6,730.6 1217.3,726.9 1223.1,723.4 C1228.9,719.9 1230.6,717.5 1240.0,711.7 C1249.4,706.0 1267.8,696.3 1279.4,688.9 C1291.1,681.5 1299.8,674.0 1309.9,667.5 C1320.0,661.0 1329.2,655.8 1340.0,649.6 C1350.8,643.4 1362.9,636.2 1374.4,630.1 C1385.9,624.0 1397.3,618.2 1408.8,612.9 C1420.3,607.5 1431.7,603.2 1443.2,598.0 C1454.7,592.8 1466.1,587.6 1477.6,581.9 C1489.0,576.2 1500.5,569.7 1511.9,563.6 C1523.4,557.5 1534.8,551.4 1546.3,545.3 C1557.8,539.2 1569.2,533.4 1580.7,526.9 C1592.2,520.4 1603.6,512.8 1615.1,506.3 C1626.6,499.8 1638.0,494.0 1649.5,487.9 C1661.0,481.8 1674.4,475.3 1683.9,469.6 C1693.5,463.9 1696.5,460.9 1706.8,453.6 C1717.1,446.3 1739.3,430.6 1745.8,426.0" stroke="#efd84e" stroke-width="6.6" fill="none" stroke-linejoin="round" stroke-linecap="butt"/>
</g>
<g>
<path d="M181.5,171 C181.5,165 185,163 191,162.8 L204.8,162.2 C220,161.5 230,161 237.5,160.6 C250,160 262,159.3 270.3,159.5 C276,160 278,161.3 281.2,161.1 C290,160.5 296,158.3 303,158.4 C315,158.6 325,162.2 335.8,162.2 C350,162 362,162.2 372,162.2 C390,162 398,161.6 404.8,161.6 C420,161.4 430,161.1 437.5,161.1 C448,161 452,160.5 459.3,160 C466,159.5 470,157.8 475.7,157.8 C482,157.8 486,159.5 492.1,159.5 C505,160 515,160.6 524.8,160.6 C535,160.8 542,161 548.9,161.1 C555,161.3 559,166 559.1,172 L561.1,191.3 C560.5,205 559.8,212 559.8,218.8 C560,230 561,240 561.1,246.4 C561,258 558,266 557.7,273.9 C558,285 558.4,295 558.4,301.4 C558.4,310 555,314.6 548.9,314.6 L541.2,315.7 C525,315.8 512,315.7 503,315.7 C490,315.8 480,318.2 470.3,318.2 C455,318 430,315.7 415.7,315.7 C400,316 385,316.7 372,316.7 C360,316.6 355,316.2 346.7,316.2 C335,316 320,315.7 313.9,315.7 C300,315.8 293,316.2 286.6,316.2 C278,316 272,314.6 264.8,314.6 C255,314.8 245,316.7 237.5,316.7 C228,316.8 222,317.3 215.7,317.3 C205,317 195,315.1 188.4,315.1 C183,314 180.5,309 180.5,303 L180.2,298 C180.2,285 180.2,278 180.2,272 C180,260 179.6,248 179.6,239.5 C180,225 180.9,214 180.9,207 C181,195 181.5,185 181.5,174.5 Z" stroke="#000" stroke-width="4.5" fill="#fff"/>
<path d="M197.5,189.5 Q197,187.5 200,187.3 L210.5,186.8 Q213,187 213,189.5 L213.2,200.5 Q213,203 210.5,203.2 L199,203.8 Q196,204 195.8,201 Z" fill="#dc4426"/>
<path d="M195.5,232.5 Q195.8,230.5 198.5,230.3 L210.5,230.2 Q213,230.4 213,233 L213,244 Q212.8,246.8 210,246.8 L198,247.1 Q194.2,247.2 194.2,244 Z" fill="#28a2dc"/>
<path d="M196.5,274.5 Q197,272.3 199.5,272.3 L210,272.5 Q213,272.8 212.8,275.5 L212.5,289.5 Q212.5,292.6 209.5,292.6 L199,292.3 Q195.8,292.2 195.8,289 Z" fill="#efd84e"/>
</g>
<circle cx="241.9" cy="192.5" r="14.4" fill="#000"/>
<path d="M233.8,186.8 L250.4,186.8 L250.4,196 C250.4,198.5 248.5,200.3 245.9,200.4 L249.8,207.5 L235,207.5 L238.5,200.4 C235.8,200.2 233.8,198.5 233.8,196 Z" fill="#fff"/>
<path d="M237,190 L240.3,190 L240.3,195 Q240.3,196.5 238.6,196.5 Q237,196.5 237,195 Z M243.7,190 L247,190 L247,195 Q247,196.5 245.3,196.5 Q243.7,196.5 243.7,195 Z" fill="#000"/>
<g transform="translate(271.20,201.00) translate(0.00,0) scale(0.8600,0.8600)" fill="none" stroke="#000" stroke-width="3.2" stroke-linecap="round" stroke-linejoin="round"><path vector-effect="non-scaling-stroke" transform="translate(0.00,0) scale(0.9700,1) translate(0.00,0)" d="M0.7,-22 C0.5,-14 0.2,-7 0,0 M0.2,-8 C1.5,-12 4,-13.5 6,-13.5 C8.5,-13.5 10,-11.5 10,-8 C10,-3.5 7,-0.3 3,-0.3 L0,0"/><path vector-effect="non-scaling-stroke" transform="translate(16.60,0) scale(0.9894,1) translate(1.50,0)" d="M0,-12 C0,-7 0.8,-3.5 3.5,-3.5 C6,-3.5 8.5,-5.5 9.7,-8.5 M9.7,-12.5 C9.8,-6 9.5,0 9,3.5 C8.5,6.5 6.5,7.2 4.3,7 C2,6.8 0,5.5 -1.5,4.5"/><path vector-effect="non-scaling-stroke" transform="translate(34.60,0) scale(0.8958,1) translate(0.00,0)" d="M4.6,-21.4 C4,-17 3,-10 3,-5 C3,-1.5 4.5,0 6.5,0 C8,0 9,-0.5 9.6,-1 M0,-14 L9.6,-14.2"/><path vector-effect="non-scaling-stroke" transform="translate(50.10,0) scale(1.0346,1) translate(0.00,0)" d="M0.8,-7.5 C4,-8 9,-8.5 11,-10.5 C12,-12.5 10.5,-15 7.5,-15 C3,-15 0,-11 0,-7 C0,-3 1.5,-0.5 4,-0.5 L8.6,-0.7"/><path vector-effect="non-scaling-stroke" transform="translate(68.70,0) scale(0.9700,1) translate(0.00,0)" d="M0.7,-22 C0.5,-14 0.2,-7 0,0 M0.2,-8 C1.5,-12 4,-13.5 6,-13.5 C8.5,-13.5 10,-11.5 10,-8 C10,-3.5 7,-0.3 3,-0.3 L0,0"/><path vector-effect="non-scaling-stroke" transform="translate(85.30,0) scale(0.9818,1) translate(0.00,0)" d="M9.3,-10 C8.5,-12.5 7,-13.3 5.1,-13.3 C2,-13.3 0,-8.5 0,-4.8 C0,-2.3 1.2,-0.8 3,-0.8 C5.5,-0.8 8,-5 9.3,-10 M9.3,-11.5 C9.5,-7 10,-3 11,0.5"/><path vector-effect="non-scaling-stroke" transform="translate(103.00,0) scale(1.1483,1) translate(0.00,0)" d="M5.5,-13.5 C4.5,-14.3 2.8,-14.5 1.5,-13.8 C0.2,-13 0.5,-11 3.5,-10 C6.5,-9 8,-7.5 7.6,-5 C7.2,-2 5,-0.8 3.2,-1 C1.8,-1.2 0.8,-2.5 0,-4.5"/><path vector-effect="non-scaling-stroke" transform="translate(118.70,0) scale(1.0346,1) translate(0.00,0)" d="M0.8,-7.5 C4,-8 9,-8.5 11,-10.5 C12,-12.5 10.5,-15 7.5,-15 C3,-15 0,-11 0,-7 C0,-3 1.5,-0.5 4,-0.5 L8.6,-0.7"/><path vector-effect="non-scaling-stroke" transform="translate(137.30,0) scale(1.0000,1) translate(0.00,0)" d="M9,-21 L0,2.5"/><path vector-effect="non-scaling-stroke" transform="translate(153.20,0) scale(0.9700,1) translate(0.00,0)" d="M0.7,-22 C0.5,-14 0.2,-7 0,0 M0.2,-8 C1.5,-12 4,-13.5 6,-13.5 C8.5,-13.5 10,-11.5 10,-8 C10,-3.5 7,-0.3 3,-0.3 L0,0"/><path vector-effect="non-scaling-stroke" transform="translate(169.80,0) scale(0.9894,1) translate(1.50,0)" d="M0,-12 C0,-7 0.8,-3.5 3.5,-3.5 C6,-3.5 8.5,-5.5 9.7,-8.5 M9.7,-12.5 C9.8,-6 9.5,0 9,3.5 C8.5,6.5 6.5,7.2 4.3,7 C2,6.8 0,5.5 -1.5,4.5"/><path vector-effect="non-scaling-stroke" transform="translate(187.80,0) scale(0.8958,1) translate(0.00,0)" d="M4.6,-21.4 C4,-17 3,-10 3,-5 C3,-1.5 4.5,0 6.5,0 C8,0 9,-0.5 9.6,-1 M0,-14 L9.6,-14.2"/><path vector-effect="non-scaling-stroke" transform="translate(203.30,0) scale(1.0346,1) translate(0.00,0)" d="M0.8,-7.5 C4,-8 9,-8.5 11,-10.5 C12,-12.5 10.5,-15 7.5,-15 C3,-15 0,-11 0,-7 C0,-3 1.5,-0.5 4,-0.5 L8.6,-0.7"/><path vector-effect="non-scaling-stroke" transform="translate(221.90,0) scale(0.9700,1) translate(0.00,0)" d="M0.7,-22 C0.5,-14 0.2,-7 0,0 M0.2,-8 C1.5,-12 4,-13.5 6,-13.5 C8.5,-13.5 10,-11.5 10,-8 C10,-3.5 7,-0.3 3,-0.3 L0,0"/><path vector-effect="non-scaling-stroke" transform="translate(238.50,0) scale(0.9818,1) translate(0.00,0)" d="M9.3,-10 C8.5,-12.5 7,-13.3 5.1,-13.3 C2,-13.3 0,-8.5 0,-4.8 C0,-2.3 1.2,-0.8 3,-0.8 C5.5,-0.8 8,-5 9.3,-10 M9.3,-11.5 C9.5,-7 10,-3 11,0.5"/><path vector-effect="non-scaling-stroke" transform="translate(256.20,0) scale(1.1483,1) translate(0.00,0)" d="M5.5,-13.5 C4.5,-14.3 2.8,-14.5 1.5,-13.8 C0.2,-13 0.5,-11 3.5,-10 C6.5,-9 8,-7.5 7.6,-5 C7.2,-2 5,-0.8 3.2,-1 C1.8,-1.2 0.8,-2.5 0,-4.5"/><path vector-effect="non-scaling-stroke" transform="translate(271.90,0) scale(1.0346,1) translate(0.00,0)" d="M0.8,-7.5 C4,-8 9,-8.5 11,-10.5 C12,-12.5 10.5,-15 7.5,-15 C3,-15 0,-11 0,-7 C0,-3 1.5,-0.5 4,-0.5 L8.6,-0.7"/></g>
<rect x="231" y="225" width="10" height="10" fill="#ff7462"/>
<rect x="241" y="225" width="10" height="10" fill="#ff5034"/>
<rect x="231" y="235" width="10" height="10" fill="#ff6446"/>
<rect x="241" y="235" width="10" height="10" fill="#ff4412"/>
<rect x="241" y="275" width="10" height="10" fill="#ecd6da"/>
<rect x="241" y="268" width="10" height="7" fill="#f7ecee"/>
<rect x="271" y="225" width="10" height="10" fill="#f0f0f0"/>
<rect x="311" y="225" width="10" height="10" fill="#f3f3f3"/>
<rect x="321" y="225" width="10" height="10" fill="#aaaaaa"/>
<rect x="351" y="225" width="10" height="10" fill="#f5f5f5"/>
<rect x="371" y="225" width="10" height="10" fill="#f3f3f3"/>
<rect x="401" y="225" width="10" height="10" fill="#b0b0b0"/>
<rect x="441" y="225" width="10" height="10" fill="#c0c0c0"/>
<rect x="451" y="225" width="10" height="10" fill="#a8a8a8"/>
<rect x="481" y="225" width="10" height="10" fill="#f5f5f5"/>
<rect x="501" y="225" width="10" height="10" fill="#ececec"/>
<rect x="271" y="235" width="10" height="10" fill="#c4c4c4"/>
<rect x="281" y="235" width="10" height="10" fill="#444444"/>
<rect x="291" y="235" width="10" height="10" fill="#b8b8b8"/>
<rect x="311" y="235" width="10" height="10" fill="#f3f3f3"/>
<rect x="321" y="235" width="10" height="10" fill="#a0a0a0"/>
<rect x="331" y="235" width="10" height="10" fill="#e6e6e6"/>
<rect x="341" y="235" width="10" height="10" fill="#fafafa"/>
<rect x="351" y="235" width="10" height="10" fill="#cfcfcf"/>
<rect x="361" y="235" width="10" height="10" fill="#f8f8f8"/>
<rect x="371" y="235" width="10" height="10" fill="#3c3c3c"/>
<rect x="381" y="235" width="10" height="10" fill="#bcbcbc"/>
<rect x="401" y="235" width="10" height="10" fill="#444444"/>
<rect x="411" y="235" width="10" height="10" fill="#c0c0c0"/>
<rect x="441" y="235" width="10" height="10" fill="#b4b4b4"/>
<rect x="451" y="235" width="10" height="10" fill="#b4b4b4"/>
<rect x="461" y="235" width="10" height="10" fill="#f8f8f8"/>
<rect x="471" y="235" width="10" height="10" fill="#666666"/>
<rect x="481" y="235" width="10" height="10" fill="#c8c8c8"/>
<rect x="491" y="235" width="10" height="10" fill="#666666"/>
<rect x="501" y="235" width="10" height="10" fill="#7a7a7a"/>
<rect x="291" y="245" width="10" height="10" fill="#b8b8b8"/>
<rect x="381" y="245" width="10" height="10" fill="#bcbcbc"/>
<rect x="271" y="268" width="10" height="7" fill="#777777"/>
<rect x="281" y="268" width="10" height="7" fill="#eeeeee"/>
<rect x="361" y="268" width="10" height="7" fill="#888888"/>
<rect x="371" y="268" width="10" height="7" fill="#eeeeee"/>
<rect x="381" y="268" width="10" height="7" fill="#d8d8d8"/>
<rect x="271" y="275" width="10" height="10" fill="#6a6a6a"/>
<rect x="281" y="275" width="10" height="10" fill="#c8c8c8"/>
<rect x="291" y="275" width="10" height="10" fill="#707070"/>
<rect x="301" y="275" width="10" height="10" fill="#aaaaaa"/>
<rect x="311" y="275" width="10" height="10" fill="#e0e0e0"/>
<rect x="321" y="275" width="10" height="10" fill="#eaeaea"/>
<rect x="331" y="275" width="10" height="10" fill="#5a5a5a"/>
<rect x="361" y="275" width="10" height="10" fill="#d8d8d8"/>
<rect x="371" y="275" width="10" height="10" fill="#383838"/>
<rect x="391" y="275" width="10" height="10" fill="#a4a4a4"/>
<rect x="401" y="275" width="10" height="10" fill="#484848"/>
<rect x="411" y="275" width="10" height="10" fill="#f8f8f8"/>
<rect x="421" y="275" width="10" height="10" fill="#e8e8e8"/>
<rect x="431" y="275" width="10" height="10" fill="#909090"/>
<rect x="441" y="275" width="10" height="10" fill="#707070"/>
<rect x="451" y="275" width="10" height="10" fill="#d0d0d0"/>
<rect x="271" y="285" width="10" height="10" fill="#a0a0a0"/>
<rect x="281" y="285" width="10" height="10" fill="#dcdcdc"/>
<rect x="291" y="285" width="10" height="10" fill="#707070"/>
<rect x="301" y="285" width="10" height="10" fill="#a0a0a0"/>
<rect x="311" y="285" width="10" height="10" fill="#9c9c9c"/>
<rect x="321" y="285" width="10" height="10" fill="#e4e4e4"/>
<rect x="331" y="285" width="10" height="10" fill="#a0a0a0"/>
<rect x="341" y="285" width="10" height="10" fill="#7a7a7a"/>
<rect x="351" y="285" width="10" height="10" fill="#f4f4f4"/>
<rect x="371" y="285" width="10" height="10" fill="#a8a8a8"/>
<rect x="391" y="285" width="10" height="10" fill="#eeeeee"/>
<rect x="401" y="285" width="10" height="10" fill="#484848"/>
<rect x="411" y="285" width="10" height="10" fill="#d8d8d8"/>
<rect x="421" y="285" width="10" height="10" fill="#f4f4f4"/>
<rect x="431" y="285" width="10" height="10" fill="#939393"/>
<rect x="441" y="285" width="10" height="10" fill="#707070"/>
<rect x="451" y="285" width="10" height="10" fill="#a4a4a4"/>
<g transform="translate(1527.50,1244.50) translate(0.00,0) scale(1.0000,1.0000)" fill="none" stroke="#666" stroke-width="3.6" stroke-linecap="round" stroke-linejoin="round"><path vector-effect="non-scaling-stroke" transform="translate(0.00,0) scale(1.1483,1) translate(0.00,0)" d="M5.5,-13.5 C4.5,-14.3 2.8,-14.5 1.5,-13.8 C0.2,-13 0.5,-11 3.5,-10 C6.5,-9 8,-7.5 7.6,-5 C7.2,-2 5,-0.8 3.2,-1 C1.8,-1.2 0.8,-2.5 0,-4.5"/><path vector-effect="non-scaling-stroke" transform="translate(14.60,0) scale(0.8958,1) translate(0.00,0)" d="M4.6,-21.4 C4,-17 3,-10 3,-5 C3,-1.5 4.5,0 6.5,0 C8,0 9,-0.5 9.6,-1 M0,-14 L9.6,-14.2"/><path vector-effect="non-scaling-stroke" transform="translate(29.00,0) scale(0.9818,1) translate(0.00,0)" d="M9.3,-10 C8.5,-12.5 7,-13.3 5.1,-13.3 C2,-13.3 0,-8.5 0,-4.8 C0,-2.3 1.2,-0.8 3,-0.8 C5.5,-0.8 8,-5 9.3,-10 M9.3,-11.5 C9.5,-7 10,-3 11,0.5"/><path vector-effect="non-scaling-stroke" transform="translate(45.60,0) scale(1.0370,1) translate(0.00,0)" d="M0,-11 C0.2,-7 0.5,-3 0.7,0.3 M0.1,-8 C1.5,-12 3.5,-14 6,-14 C8,-14 9.5,-13.2 10.8,-12"/><path vector-effect="non-scaling-stroke" transform="translate(62.60,0) scale(1.0077,1) translate(0.00,0)" d="M0,-8.3 L13,-8.7"/><path vector-effect="non-scaling-stroke" transform="translate(81.50,0) scale(0.9551,1) translate(0.00,0)" d="M0.4,-20 L0,-0.5 M0.4,-10 C1.5,-12 3.5,-13 5.5,-13 C7.5,-13 8.5,-11.5 8.5,-9 L8.9,0.5"/><path vector-effect="non-scaling-stroke" transform="translate(95.80,0) scale(0.7143,1) translate(0.00,0)" d="M0,-17 L3.5,-17.3 M1.2,-11.5 L1.7,-0.8"/><path vector-effect="non-scaling-stroke" transform="translate(104.10,0) scale(1.1483,1) translate(0.00,0)" d="M5.5,-13.5 C4.5,-14.3 2.8,-14.5 1.5,-13.8 C0.2,-13 0.5,-11 3.5,-10 C6.5,-9 8,-7.5 7.6,-5 C7.2,-2 5,-0.8 3.2,-1 C1.8,-1.2 0.8,-2.5 0,-4.5"/><path vector-effect="non-scaling-stroke" transform="translate(118.70,0) scale(0.8958,1) translate(0.00,0)" d="M4.6,-21.4 C4,-17 3,-10 3,-5 C3,-1.5 4.5,0 6.5,0 C8,0 9,-0.5 9.6,-1 M0,-14 L9.6,-14.2"/><path vector-effect="non-scaling-stroke" transform="translate(133.10,0) scale(1.1034,1) translate(0.00,0)" d="M5,-13.4 C7.5,-13.4 8.7,-10 8.7,-7 C8.7,-3 6.5,0 4,0 C1.5,0 0,-2.5 0,-6 C0,-10 2.2,-13.4 5,-13.4 Z"/><path vector-effect="non-scaling-stroke" transform="translate(148.50,0) scale(1.0370,1) translate(0.00,0)" d="M0,-11 C0.2,-7 0.5,-3 0.7,0.3 M0.1,-8 C1.5,-12 3.5,-14 6,-14 C8,-14 9.5,-13.2 10.8,-12"/><path vector-effect="non-scaling-stroke" transform="translate(165.50,0) scale(0.9894,1) translate(1.50,0)" d="M0,-12 C0,-7 0.8,-3.5 3.5,-3.5 C6,-3.5 8.5,-5.5 9.7,-8.5 M9.7,-12.5 C9.8,-6 9.5,0 9,3.5 C8.5,6.5 6.5,7.2 4.3,7 C2,6.8 0,5.5 -1.5,4.5"/><path vector-effect="non-scaling-stroke" transform="translate(182.40,0) scale(1.5000,1) translate(0.00,0)" d="M0,-0.3 L0.8,-0.5"/><path vector-effect="non-scaling-stroke" transform="translate(189.40,0) scale(0.9565,1) translate(0.00,0)" d="M8,-12.5 C7.5,-14 6.5,-15 5.3,-15 C2.5,-15 0,-11 0,-6.5 C0,-3 1.8,-0.6 4,-0.6 C6.5,-0.6 8.5,-1.2 9.2,-1.5"/><path vector-effect="non-scaling-stroke" transform="translate(204.00,0) scale(1.1034,1) translate(0.00,0)" d="M5,-13.4 C7.5,-13.4 8.7,-10 8.7,-7 C8.7,-3 6.5,0 4,0 C1.5,0 0,-2.5 0,-6 C0,-10 2.2,-13.4 5,-13.4 Z"/><path vector-effect="non-scaling-stroke" transform="translate(219.40,0) scale(1.0675,1) translate(0.00,0)" d="M0.7,-11.3 L0,0.8 M0.5,-9 C1.5,-13 3,-15.5 4.2,-15.5 C6,-15.5 7,-8 7.1,-3.5 C7.5,-9 9,-14.8 12,-14.8 C15,-14.8 15.5,-8 16.3,0.8"/></g>
<path d="M1477.2,1219.3 Q1487.4,1223.9 1508.7,1235.3 Q1486,1244 1473.4,1244.7 Q1484,1233.9 1499.3,1215.1 Q1499.4,1233.8 1496.3,1252.5 Q1481.5,1235.9 1477.2,1219.3 Z" stroke="#14cc14" stroke-width="3.4" fill="none" stroke-linejoin="round" stroke-linecap="round"/>
</svg></body></html>
